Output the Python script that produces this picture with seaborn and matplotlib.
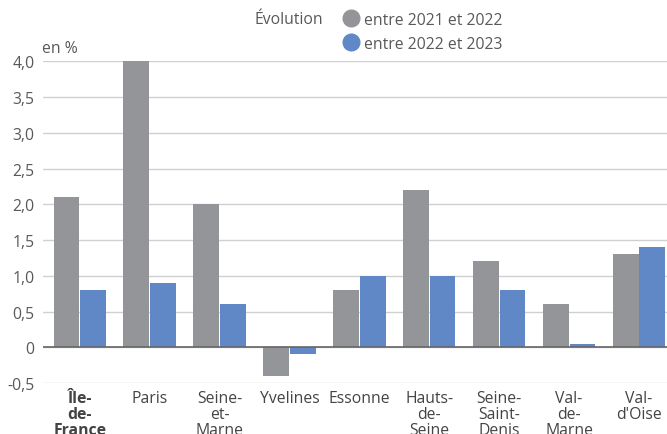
import numpy as np
import pandas as pd
import matplotlib
matplotlib.use('Agg')
import matplotlib.pyplot as plt
from matplotlib.lines import Line2D
import seaborn as sns

departements = ["Île-\nde-\nFrance", "Paris", "Seine-\net-\nMarne", "Yvelines", "Essonne",
                "Hauts-\nde-\nSeine", "Seine-\nSaint-\nDenis", "Val-\nde-\nMarne", "Val-\nd'Oise"]
evol_2021_2022 = [2.1, 4.0, 2.0, -0.4, 0.8, 2.2, 1.2, 0.6, 1.3]
evol_2022_2023 = [0.8, 0.9, 0.6, -0.1, 1.0, 1.0, 0.8, 0.05, 1.4]
series = ["entre 2021 et 2022", "entre 2022 et 2023"]
y_ticks = [-0.5, 0, 0.5, 1.0, 1.5, 2.0, 2.5, 3.0, 3.5, 4.0]

df = pd.DataFrame({
    "dep": departements * 2,
    "serie": [series[0]] * len(departements) + [series[1]] * len(departements),
    "valeur": evol_2021_2022 + evol_2022_2023,
})

sns.set_style("white")
plt.rcParams['font.family'] = ['Open Sans', 'DejaVu Sans']

colors = {series[0]: "#939598", series[1]: "#6088c6"}
fs = 11.3

fig = plt.figure(figsize=(6.67, 4.35), dpi=100)
ax = fig.add_axes([0.064, 0.117, 0.936, 0.74])

sns.barplot(data=df, x="dep", y="valeur", hue="serie", hue_order=series,
            palette=colors, width=0.76, gap=0.03, saturation=1, linewidth=0,
            ax=ax, legend=False, zorder=3)

ax.set_ylim(-0.5, 4.0)
ax.set_xlim(-0.53, 8.4)
ax.set_yticks(y_ticks)
ax.set_yticklabels([("%.1f" % v).replace(".", ",") if v != 0 else "0" for v in y_ticks],
                   fontsize=fs, color="#595959")
ax.grid(axis="y", color="#d0d0d0", linewidth=1, zorder=0)
ax.axhline(0, color="#666666", linewidth=1.2, zorder=4)
for s in ax.spines.values():
    s.set_visible(False)
ax.tick_params(axis="both", length=0)
ax.tick_params(axis="y", pad=6)
ax.tick_params(axis="x", pad=5)
ax.set_xlabel("")
ax.set_ylabel("")
labels = ax.set_xticklabels(departements, fontsize=fs, color="#444444", linespacing=1.0)
labels[0].set_fontweight("bold")

fig.text(0.063, 0.888, "en %", fontsize=fs, color="#595959", ha="left", va="center")

# legend
fig.text(0.485, 0.953, "Évolution", fontsize=fs, color="#595959", ha="right", va="center")
handles = [Line2D([], [], marker="o", linestyle="", markersize=12,
                  markerfacecolor=colors[s], markeredgecolor=colors[s]) for s in series]
leg = fig.legend(handles, series, loc="upper left", bbox_to_anchor=(0.505, 0.985),
                 frameon=False, fontsize=fs, handletextpad=0.3, labelspacing=0.5,
                 handlelength=1.0, borderaxespad=0)
for t in leg.get_texts():
    t.set_color("#595959")

plt.savefig("out.png", dpi=100)
plt.close()
